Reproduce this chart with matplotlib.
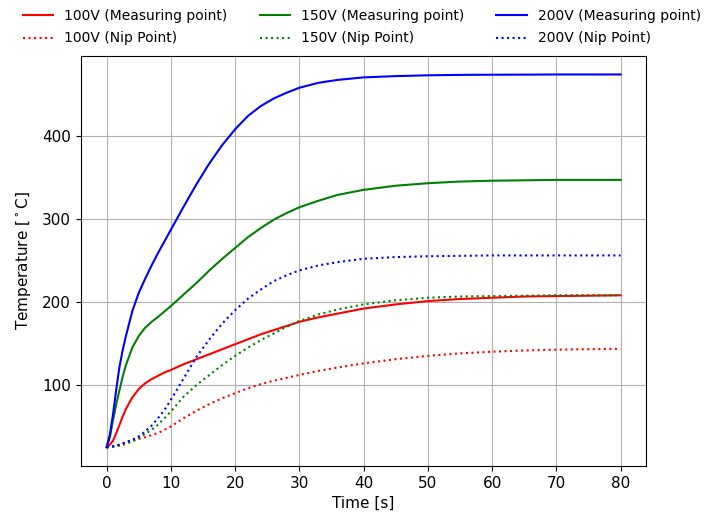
import numpy as np
import matplotlib
matplotlib.use('Agg')
import matplotlib.pyplot as plt

# time axis [s]
t = [0, 0.5, 1, 1.5, 2, 2.5, 3, 4, 5, 6, 7, 8, 9, 10, 12, 14, 16, 18, 20, 22, 24, 26, 28, 30,
     33, 36, 40, 45, 50, 55, 60, 65, 70, 75, 80]

# measuring point temperatures
m100 = [25, 28, 33, 42, 52, 62, 71, 85, 95, 102, 107, 111, 115, 118, 125, 131, 137, 143, 149, 155,
        161, 166, 171, 176, 181.5, 186, 192, 197, 201, 203.5, 205, 206.5, 207, 207.5, 208]
m150 = [25, 37, 58, 77, 94, 110, 124, 145, 159, 169, 176, 182, 188.5, 195, 209, 223, 238, 252, 265, 278,
        289, 299, 307, 314, 322, 329, 335, 340, 343, 345, 346, 346.5, 347, 347, 347]
m200 = [25, 40, 65, 95, 122, 142, 159, 189, 211, 228, 244, 259, 273, 287, 315, 342, 367, 389, 408, 424,
        436, 445, 452, 458, 464, 467.5, 470.5, 472, 473, 473.5, 473.7, 473.8, 474, 474, 474]

# nip point temperatures
n100 = [25, 25.2, 26, 27, 28, 29.5, 31, 33, 35, 37, 39.5, 42, 46, 50, 60, 69, 77, 84, 90, 96,
        101, 105, 108.5, 112, 117, 121, 126, 131, 135, 138, 140, 141.5, 142.5, 143, 143.5]
n150 = [25, 25.1, 25.5, 26, 27, 28, 29, 32, 36, 41, 46, 52, 60, 68, 86, 100, 112, 124, 135, 145,
        154, 162, 170, 177, 185, 191, 197, 202, 205, 206.5, 207, 207.5, 208, 208, 208]
n200 = [25, 25.2, 26, 27, 28, 29.5, 31, 34, 38, 44, 51, 60, 70, 82, 108, 134, 155, 174, 190, 204,
        215, 225, 232, 238, 244, 248, 252, 254, 255, 255.5, 256, 256, 256, 256, 256]

fig = plt.figure(figsize=(7.04, 5.17), dpi=100)
ax = fig.add_axes([0.115, 0.099, 0.803, 0.793])

ax.plot(t, m100, color='r', label='100V (Measuring point)')
ax.plot(t, n100, color='r', linestyle=':', label='100V (Nip Point)')
ax.plot(t, m150, color='g', label='150V (Measuring point)')
ax.plot(t, n150, color='g', linestyle=':', label='150V (Nip Point)')
ax.plot(t, m200, color='b', label='200V (Measuring point)')
ax.plot(t, n200, color='b', linestyle=':', label='200V (Nip Point)')

ax.set_xlabel('Time [s]', fontsize=11)
ax.set_ylabel(r'Temperature [$^\circ$C]', fontsize=11, labelpad=7)
ax.tick_params(labelsize=11)
ax.grid(True)
ax.legend(loc='lower center', bbox_to_anchor=(0.497, 0.995), ncol=3, frameon=False,
          fontsize=10, handlelength=2.2, labelspacing=0.6, columnspacing=2.3)

fig.savefig('out.png', dpi=100)
